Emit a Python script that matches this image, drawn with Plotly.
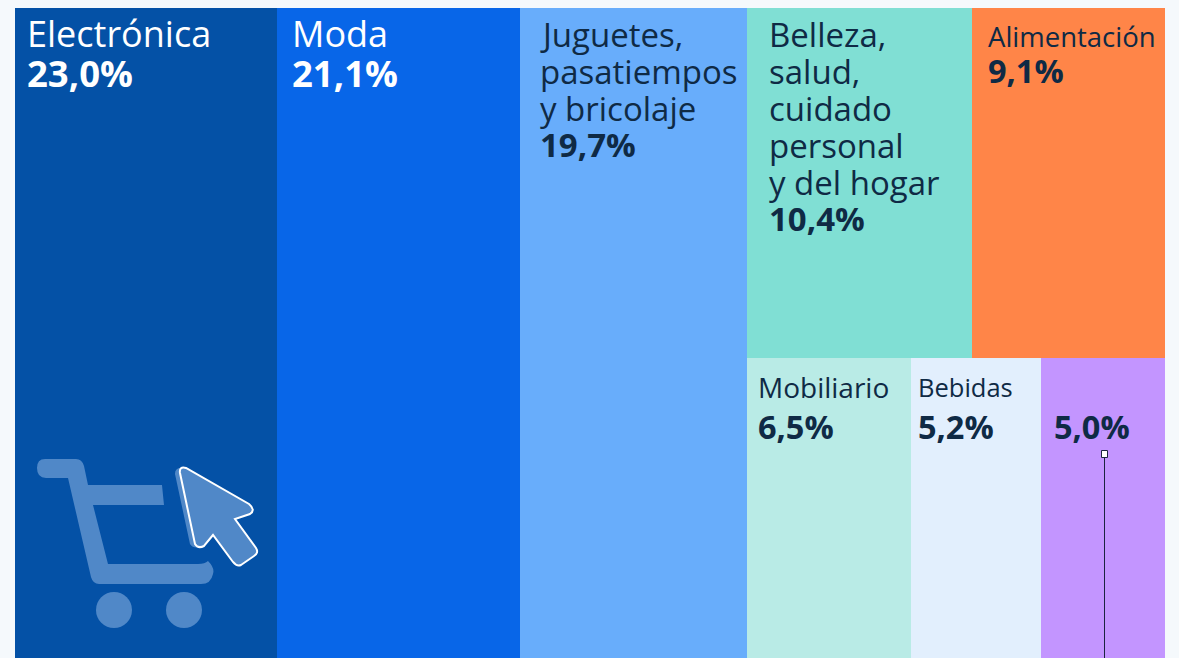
import plotly.graph_objects as go

W, H = 1179, 658

# --- data ---
categories = ["Electrónica", "Moda", "Juguetes, pasatiempos y bricolaje",
              "Belleza, salud, cuidado personal y del hogar", "Alimentación",
              "Mobiliario", "Bebidas", ""]
value_labels = ["23,0%", "21,1%", "19,7%", "10,4%", "9,1%", "6,5%", "5,2%", "5,0%"]
# tile areas as measured from the tiles themselves (share of the total)
tile_sizes = [22.8, 21.1, 19.75, 10.5, 9.0, 6.6, 5.2, 5.0]
tile_colors = ["#0451A6", "#0866E8", "#68ADFB", "#80DFD4", "#FF8548",
               "#B9EBE6", "#E2EFFD", "#C395FF"]
category_lines = [["Electrónica"], ["Moda"], ["Juguetes,", "pasatiempos", "y bricolaje"],
                  ["Belleza,", "salud,", "cuidado", "personal", "y del hogar"],
                  ["Alimentación"], ["Mobiliario"], ["Bebidas"], []]

BG = "#F5F9FC"
DARK = "#0F2A45"
text_colors = ["#FFFFFF", "#FFFFFF", DARK, DARK, DARK, DARK, DARK, DARK]
name_sizes = [36, 36, 33, 33, 27.5, 28, 25.5, 26]
value_sizes = [36.5, 36.5, 33, 33, 32.5, 32.5, 32.5, 32.5]
pad_x = [10, 13, 18, 20, 14, 9, 5, 11]
first_line = [25, 25, 26, 26, 28, 29, 29, 29]      # centre of first name line below tile top
line_step = [37, 37, 37, 37, 37, 0, 0, 0]
value_gap = [40, 40, 36, 36, 34, 39, 39, 39]

# --- treemap geometry, derived from the sizes ---
total = sum(tile_sizes)
lefts, tops, widths, heights = [], [], [], []
x0 = 0.0
for s in tile_sizes[:3]:
    lefts.append(x0); tops.append(0.0); widths.append(s); heights.append(100.0)
    x0 += s
rest = sum(tile_sizes[3:])
for row, top in ((tile_sizes[3:5], 0.0), (tile_sizes[5:], None)):
    rs = sum(row)
    h = rs / rest * 100
    if top is None:
        top = 100 - h
    x = x0
    for s in row:
        w = s / rs * rest
        lefts.append(x); tops.append(top); widths.append(w); heights.append(h)
        x += w

# pixel scales of the plot (the tree runs slightly past the bottom of the page)
PX_L, PX_R, PX_T, PX_B = 15, 1165, 8, 660
xs = (PX_R - PX_L) / total
ys = (PX_B - PX_T) / 100

fig = go.Figure(go.Bar(
    x=[l + w / 2 for l, w in zip(lefts, widths)],
    y=heights, base=tops, width=widths,
    marker=dict(color=tile_colors, line=dict(width=0)),
    customdata=categories, hovertemplate="%{customdata}<extra></extra>",
))

annotations = []
FONT = "Open Sans, Noto Sans, sans-serif"
for i, lines in enumerate(category_lines):
    for j, line in enumerate(lines):
        annotations.append(dict(
            x=lefts[i], y=tops[i], xref="x", yref="y", xanchor="left", yanchor="middle",
            xshift=pad_x[i], yshift=-(first_line[i] + j * line_step[i]),
            text=line, showarrow=False,
            font=dict(family=FONT, size=name_sizes[i], color=text_colors[i]),
        ))
    last = first_line[i] + max(len(lines) - 1, 0) * line_step[i]
    annotations.append(dict(
        x=lefts[i], y=tops[i], xref="x", yref="y", xanchor="left", yanchor="middle",
        xshift=pad_x[i], yshift=-(last + value_gap[i]),
        text="<b>" + value_labels[i] + "</b>", showarrow=False,
        font=dict(family=FONT, size=value_sizes[i], color=text_colors[i]),
    ))


def px(x, y):
    return f"{x / W:.5f} {1 - y / H:.5f}"


def path(cmds):
    out = []
    for c in cmds:
        if len(c) == 3:
            out.append(f"{c[0]} {px(c[1], c[2])}")
        elif len(c) == 5:
            out.append(f"Q {px(c[1], c[2])} {px(c[3], c[4])}")
        else:
            out.append(c)
    return " ".join(out)


ICON = "#5088C8"
cart = [("M", 37, 468), ("Q", 37, 459, 45, 459), ("L", 76, 459), ("Q", 82, 459, 84, 466),
        ("L", 88, 485), ("L", 162, 485), ("L", 164, 505), ("L", 93, 505), ("L", 108, 564),
        ("L", 198, 564), ("Q", 205, 564, 208, 561), ("Q", 215, 568, 213, 574),
        ("Q", 211, 584, 201, 584), ("L", 99, 584), ("Q", 93, 584, 91, 577),
        ("L", 68, 478), ("L", 46, 478), ("Q", 37, 478, 37, 468), "Z"]
cursor = [("M", 180, 473), ("Q", 179, 466, 186, 468), ("L", 249, 504), ("Q", 256, 510, 250, 514),
          ("L", 235, 519), ("L", 256, 548), ("Q", 259, 553, 254, 556), ("L", 241, 565),
          ("Q", 237, 567, 233, 562), ("L", 213, 535), ("L", 204, 546), ("Q", 198, 549, 195, 544), "Z"]
shadow = [("M", 175, 474), ("Q", 175, 468, 181, 468), ("L", 246, 504), ("L", 250, 514),
          ("L", 235, 519), ("L", 252, 548), ("L", 240, 563), ("Q", 236, 565, 232, 560),
          ("L", 213, 535), ("L", 201, 547), ("Q", 193, 549, 190, 544), "Z"]

P = dict(xref="paper", yref="paper", layer="above")
shapes = [
    dict(type="path", path=path(cart), fillcolor=ICON, line=dict(width=0), **P),
    dict(type="circle", x0=96 / W, x1=132 / W, y0=1 - 628 / H, y1=1 - 592 / H,
         fillcolor=ICON, line=dict(width=0), **P),
    dict(type="circle", x0=166 / W, x1=202 / W, y0=1 - 628 / H, y1=1 - 592 / H,
         fillcolor=ICON, line=dict(width=0), **P),
    dict(type="path", path=path(shadow), fillcolor=ICON, line=dict(width=0), **P),
    dict(type="path", path=path(cursor), fillcolor=ICON, line=dict(color="#FFFFFF", width=2), **P),
    # leader line and its handle in the last tile
    dict(type="line", x0=1104.5 / W, x1=1104.5 / W, y0=1 - 454 / H, y1=0,
         line=dict(color="#1B2440", width=1), **P),
    dict(type="rect", x0=1101.5 / W, x1=1107.5 / W, y0=1 - 457.5 / H, y1=1 - 450.5 / H,
         fillcolor="#FFFFFF", line=dict(color="#1B2440", width=1), **P),
]

fig.update_layout(
    width=W, height=H, autosize=False, margin=dict(l=0, r=0, t=0, b=0),
    paper_bgcolor=BG, plot_bgcolor=BG, showlegend=False, bargap=0,
    xaxis=dict(range=[-PX_L / xs, (W - PX_L) / xs], visible=False, fixedrange=True),
    yaxis=dict(range=[(H - PX_T) / ys, -PX_T / ys], visible=False, fixedrange=True),
    annotations=annotations, shapes=shapes,
)
fig.write_html(
    "out.html",
    config=dict(displayModeBar=False),
    post_script="document.body.style.margin='0';document.body.style.overflow='hidden';"
                f"document.body.style.background='{BG}';",
)
